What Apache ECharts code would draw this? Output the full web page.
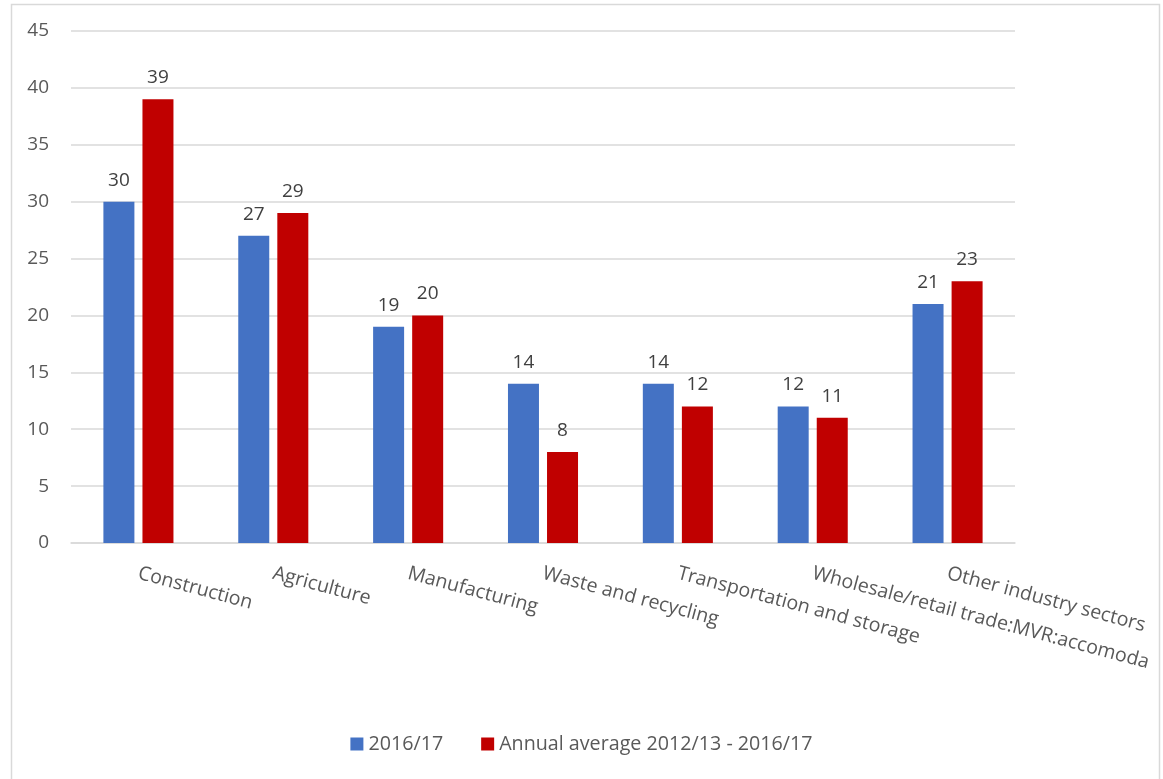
<!DOCTYPE html>
<html>
<head>
<meta charset="utf-8">
<script src="https://cdn.jsdelivr.net/npm/echarts@6/dist/echarts.min.js"></script>
<style>
  html, body { margin: 0; padding: 0; background: #fff; }
  #chart { width: 1163px; height: 779px; }
</style>
</head>
<body>
<div id="chart"></div>
<script>
// Industry sectors shown along the x axis
const categories = [
  'Construction',
  'Agriculture',
  'Manufacturing',
  'Waste and recycling',
  'Transportation and storage',
  'Wholesale/retail trade:MVR:accomoda',
  'Other industry sectors'
];

// Series values
const values2016 = [30, 27, 19, 14, 14, 12, 21];
const valuesAverage = [39, 29, 20, 8, 12, 11, 23];

const seriesNames = ['2016/17', 'Annual average 2012/13 - 2016/17'];

// Y axis scale
const yMin = 0;
const yMax = 45;
const yStep = 5;

const FONT = '"Open Sans", "Noto Sans", sans-serif';
const TEXT = '#595959';
const GRID = '#d9d9d9';

const chart = echarts.init(document.getElementById('chart'), null, { renderer: 'canvas' });

const barLabel = {
  show: true,
  position: 'top',
  distance: 12,
  color: '#404040',
  fontFamily: FONT,
  fontSize: 19
};

chart.setOption({
  animation: false,
  backgroundColor: '#fff',
  graphic: [{
    type: 'rect',
    shape: { x: 11.5, y: 4.5, width: 1148, height: 790 },
    style: { fill: 'none', stroke: GRID, lineWidth: 1.5 },
    z: -1
  }],
  grid: { left: 71, right: 148, top: 31, bottom: 236, containLabel: false },
  legend: {
    bottom: 20,
    left: 'center',
    itemWidth: 13,
    itemHeight: 13,
    itemGap: 38,
    icon: 'rect',
    textStyle: { color: TEXT, fontFamily: FONT, fontSize: 19.7 },
    data: seriesNames
  },
  xAxis: {
    type: 'category',
    data: categories,
    axisLine: { lineStyle: { color: GRID, width: 1.5 } },
    axisTick: { show: false },
    axisLabel: {
      interval: 0,
      rotate: -15,
      margin: 30,
      color: TEXT,
      fontFamily: FONT,
      fontSize: 19.6
    }
  },
  yAxis: {
    type: 'value',
    min: yMin,
    max: yMax,
    interval: yStep,
    axisLine: { show: false },
    axisTick: { show: false },
    splitLine: { lineStyle: { color: GRID, width: 1.5 } },
    axisLabel: {
      margin: 22,
      color: TEXT,
      fontFamily: FONT,
      fontSize: 19
    }
  },
  series: [
    {
      name: seriesNames[0],
      type: 'bar',
      data: values2016,
      barWidth: 31,
      barGap: '26%',
      itemStyle: { color: '#4472C4' },
      label: barLabel
    },
    {
      name: seriesNames[1],
      type: 'bar',
      data: valuesAverage,
      barWidth: 31,
      barGap: '26%',
      itemStyle: { color: '#C00000' },
      label: barLabel
    }
  ]
});
</script>
</body>
</html>
